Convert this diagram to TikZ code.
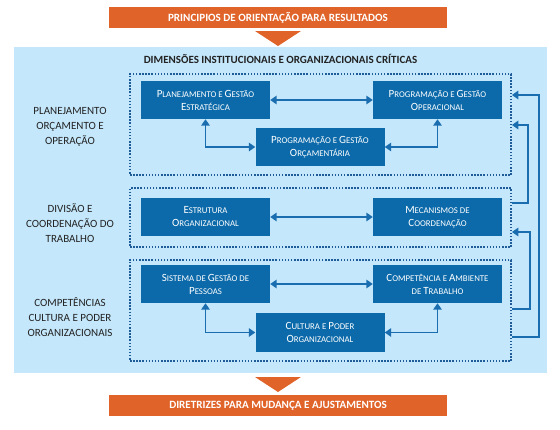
\documentclass[tikz,border=0pt]{standalone}
\usepackage{fontspec}
\setmainfont{Carlito}
\usetikzlibrary{arrows.meta}

\definecolor{accent}{HTML}{E0632A}
\definecolor{panelbg}{HTML}{C4E7FB}
\definecolor{boxblue}{HTML}{0C6AAA}
\definecolor{dotblue}{HTML}{1D5C98}
\definecolor{linkblue}{HTML}{1A6EAF}
\definecolor{labelgray}{HTML}{222222}

% faux small caps: capital initial set a little larger
\newcommand\Cap[1]{{\fontsize{11}{13}\selectfont #1}}

\tikzset{
  banner/.style={fill=accent, text=white, minimum width=338pt, minimum height=21pt,
    inner sep=0pt, font=\fontsize{11.1}{12}\selectfont\bfseries},
  pointer/.style={fill=accent},
  group/.style={draw=dotblue, line width=1.8pt, dash pattern=on 1.5pt off 1.6pt,
    minimum width=381pt, inner sep=0pt},
  card/.style={fill=boxblue, text=white, minimum width=129pt, minimum height=38pt,
    inner sep=0pt, align=center, font=\fontsize{8.8}{13}\selectfont},
  sidelabel/.style={text=labelgray, align=center, font=\fontsize{11}{15}\selectfont},
  link/.style={draw=linkblue, line width=1.8pt,
    arrows={Triangle[length=6.5pt,width=8.5pt]-Triangle[length=6.5pt,width=8.5pt]}},
  feed/.style={draw=linkblue, line width=1.8pt, arrows={Triangle[length=6.5pt,width=8.5pt]-}},
}

\begin{document}
\begin{tikzpicture}[x=1pt,y=-1pt]
\useasboundingbox (0,0) rectangle (560,429);

% header banner and pointer
\node[banner] (head) at (278,17.5) {PRINCIPIOS DE ORIENTAÇÃO PARA RESULTADOS};
\fill[pointer] (255,31) -- (301,31) -- (278,46) -- cycle;

% background panel
\fill[panelbg] (14,47) rectangle (547,373);
\node[font=\fontsize{11}{12}\selectfont\bfseries, text=labelgray] (title) at (280.5,59)
  {DIMENSÕES INSTITUCIONAIS E ORGANIZACIONAIS CRÍTICAS};

% dotted groups
\node[group, minimum height=101pt] (d1) at (320.5,124.5) {};
\node[group, minimum height=59pt]  (d2) at (320.5,217.5) {};
\node[group, minimum height=101pt] (d3) at (320.5,310.5) {};

% side labels
\node[sidelabel] (l1) at (70,127) {PLANEJAMENTO\\ORÇAMENTO E\\OPERAÇÃO};
\node[sidelabel] (l2) at (70,223) {DIVISÃO E\\COORDENAÇÃO DO\\TRABALHO};
\node[sidelabel] (l3) at (70,317) {COMPETÊNCIAS\\CULTURA E PODER\\ORGANIZACIONAIS};

% group 1
\node[card] (a1) at (205.5,100) {\Cap{P}LANEJAMENTO E \Cap{G}ESTÃO\\\Cap{E}STRATÉGICA};
\node[card] (a2) at (437.5,100) {\Cap{P}ROGRAMAÇÃO E \Cap{G}ESTÃO\\\Cap{O}PERACIONAL};
\node[card] (a3) at (320,147)   {\Cap{P}ROGRAMAÇÃO E \Cap{G}ESTÃO\\\Cap{O}RÇAMENTÁRIA};

% group 2
\node[card] (b1) at (205.5,217) {\Cap{E}STRUTURA\\\Cap{O}RGANIZACIONAL};
\node[card] (b2) at (437.5,217) {\Cap{M}ECANISMOS DE\\\Cap{C}OORDENAÇÃO};

% group 3
\node[card] (c1) at (205.5,284) {\Cap{S}ISTEMA DE \Cap{G}ESTÃO DE\\\Cap{P}ESSOAS};
\node[card] (c2) at (437.5,284) {\Cap{C}OMPETÊNCIA E \Cap{A}MBIENTE\\DE \Cap{T}RABALHO};
\node[card, minimum height=39pt] (c3) at (320,332.5) {\Cap{C}ULTURA E \Cap{P}ODER\\\Cap{O}RGANIZACIONAL};

% links inside the groups
\draw[link] (a1) -- (a2);
\draw[link] (a1.south) |- (a3.west);
\draw[link] (a2.south) |- (a3.east);
\draw[link] (b1) -- (b2);
\draw[link] (c1) -- (c2);
\draw[link] (c1.south) |- (c3.west);
\draw[link] (c2.south) |- (c3.east);

% feedback between groups
\draw[feed] (d1.east |- 0,95)  -- ++(27,0) |- (d3.east |- 0,337);
\draw[feed] (d1.east |- 0,125) -- ++(16,0) |- (d2.east |- 0,203);
\draw[feed] (d2.east |- 0,232) -- ++(18,0) |- (d3.east |- 0,309);

% footer pointer and banner
\fill[pointer] (255,377) -- (301,377) -- (278,392) -- cycle;
\node[banner] (foot) at (278,405.5) {DIRETRIZES PARA MUDANÇA E AJUSTAMENTOS};
\end{tikzpicture}
\end{document}
